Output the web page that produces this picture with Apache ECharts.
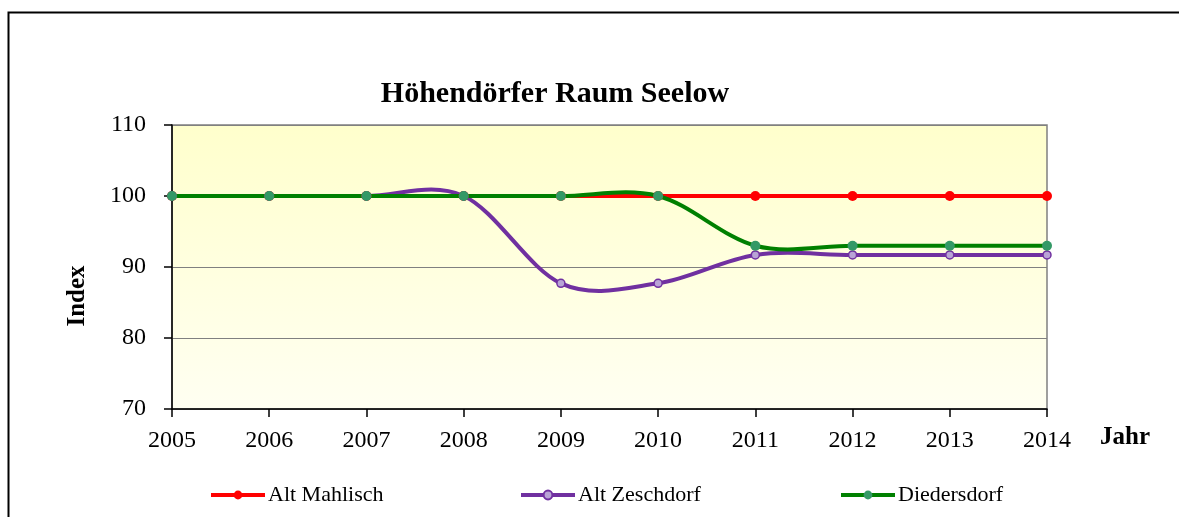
<!DOCTYPE html>
<html>
<head>
<meta charset="utf-8">
<script src="https://cdn.jsdelivr.net/npm/echarts@6/dist/echarts.min.js"></script>
<style>
  html, body { margin: 0; padding: 0; background: #fff; }
  #chart { width: 1179px; height: 517px; }
</style>
</head>
<body>
<div id="chart"></div>
<script>
const years = ['2005', '2006', '2007', '2008', '2009', '2010', '2011', '2012', '2013', '2014']
const altMahlisch = [100, 100, 100, 100, 100, 100, 100, 100, 100, 100]
const altZeschdorf = [100, 100, 100, 100, 87.7, 87.7, 91.7, 91.7, 91.7, 91.7]
const diedersdorf = [100, 100, 100, 100, 100, 100, 93, 93, 93, 93]

const serif = '"Liberation Serif", "Times New Roman", serif'

const chart = echarts.init(document.getElementById('chart'))

// excel-style smoothed curve (catmull-rom -> bezier), drawn through the axes
function curveSeries(values, color, z) {
  return {
    type: 'custom',
    data: values.map((v, i) => [i, v]),
    z,
    silent: true,
    renderItem(params, api) {
      if (params.dataIndex !== 0) return null
      const pts = values.map((v, i) => api.coord([i, v]))
      let d = 'M' + pts[0][0] + ' ' + pts[0][1]
      for (let i = 0; i < pts.length - 1; i++) {
        const p0 = pts[Math.max(i - 1, 0)]
        const p1 = pts[i]
        const p2 = pts[i + 1]
        const p3 = pts[Math.min(i + 2, pts.length - 1)]
        const c1 = [p1[0] + (p2[0] - p0[0]) / 6, p1[1] + (p2[1] - p0[1]) / 6]
        const c2 = [p2[0] - (p3[0] - p1[0]) / 6, p2[1] - (p3[1] - p1[1]) / 6]
        d += ' C' + c1.join(' ') + ' ' + c2.join(' ') + ' ' + p2.join(' ')
      }
      return {
        type: 'path',
        shape: { pathData: d },
        style: { fill: 'none', stroke: color, lineWidth: 4, lineJoin: 'round' }
      }
    }
  }
}

function markerSeries(name, data, color, symbolColor, hollow, z) {
  return {
    name,
    type: 'line',
    data,
    z,
    symbol: 'circle',
    symbolSize: hollow ? 8 : 10,
    lineStyle: { width: 4, color, opacity: 0 },
    itemStyle: hollow
      ? { color: '#b9a3d6', borderColor: color, borderWidth: 1.5 }
      : { color: symbolColor, borderWidth: 0 },
    emphasis: { disabled: true }
  }
}

function legendAt(name, color, left) {
  return {
    data: [{ name, lineStyle: { color, width: 4, opacity: 1 } }],
    left,
    top: 479,
    itemWidth: 54,
    itemHeight: 11,
    textStyle: { fontFamily: serif, fontSize: 22, color: '#000', padding: [0, 0, 0, -2] }
  }
}

chart.setOption({
  animation: false,
  backgroundColor: '#fff',
  title: {
    text: 'Höhendörfer Raum Seelow',
    left: 550,
    textAlign: 'center',
    top: 74,
    textStyle: { fontFamily: serif, fontSize: 30, fontWeight: 'bold', color: '#000' }
  },
  graphic: [
    {
      type: 'rect',
      shape: { x: 8.5, y: 12.5, width: 1200, height: 600 },
      style: { fill: 'none', stroke: '#000', lineWidth: 2 },
      silent: true
    },
    {
      type: 'text',
      x: 1100,
      y: 438,
      style: { text: 'Jahr', font: 'bold 25px ' + serif, fill: '#000', verticalAlign: 'middle' }
    },
    {
      type: 'text',
      x: 78,
      y: 296,
      rotation: Math.PI / 2,
      style: { text: 'Index', font: 'bold 25px ' + serif, fill: '#000', align: 'center', verticalAlign: 'middle' }
    }
  ],
  legend: [
    legendAt('Alt Mahlisch', '#ff0000', 204),
    legendAt('Alt Zeschdorf', '#7030a0', 514),
    legendAt('Diedersdorf', '#008000', 834)
  ],
  grid: {
    left: 172,
    right: 132,
    top: 125,
    bottom: 108,
    show: true,
    borderColor: '#808080',
    borderWidth: 1.5,
    backgroundColor: {
      type: 'linear', x: 0, y: 0, x2: 0, y2: 1,
      colorStops: [
        { offset: 0, color: '#ffffcc' },
        { offset: 1, color: '#fffff2' }
      ]
    }
  },
  xAxis: {
    type: 'category',
    data: years,
    boundaryGap: false,
    axisLine: { lineStyle: { color: '#000', width: 1.5 } },
    axisTick: { show: true, length: 8, lineStyle: { color: '#000', width: 1.5 } },
    axisLabel: { fontFamily: serif, fontSize: 24, color: '#000', margin: 20 },
    splitLine: { show: false }
  },
  yAxis: {
    type: 'value',
    min: 70,
    max: 110,
    interval: 10,
    axisLine: { show: true, lineStyle: { color: '#000', width: 1.5 } },
    axisTick: { show: true, length: 8, lineStyle: { color: '#000', width: 1.5 } },
    axisLabel: { fontFamily: serif, fontSize: 24, color: '#000', margin: 26 },
    splitLine: { lineStyle: { color: '#808080', width: 1.2 } }
  },
  series: [
    curveSeries(altMahlisch, '#ff0000', 2),
    curveSeries(altZeschdorf, '#7030a0', 3),
    curveSeries(diedersdorf, '#008000', 4),
    markerSeries('Alt Mahlisch', altMahlisch, '#ff0000', '#ff0000', false, 5),
    markerSeries('Alt Zeschdorf', altZeschdorf, '#7030a0', '#7030a0', true, 6),
    markerSeries('Diedersdorf', diedersdorf, '#008000', '#339966', false, 7)
  ]
})
</script>
</body>
</html>
